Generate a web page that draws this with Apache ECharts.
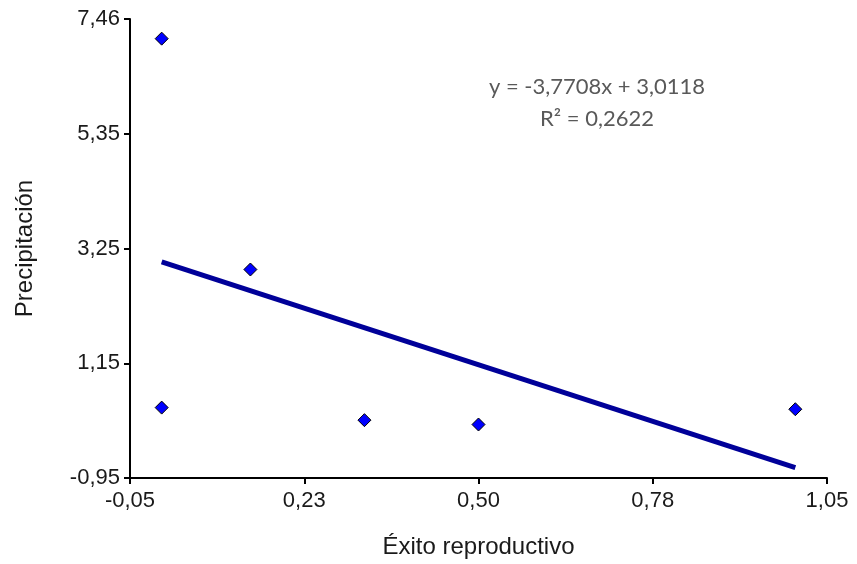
<!DOCTYPE html>
<html>
<head>
<meta charset="utf-8">
<script src="https://cdn.jsdelivr.net/npm/echarts@6/dist/echarts.min.js"></script>
<style>
  html, body { margin: 0; padding: 0; background: #fff; }
  #chart { width: 857px; height: 564px; }
</style>
</head>
<body>
<div id="chart"></div>
<script>
// datos
var exito = [0.0, 0.0, 0.14, 0.32, 0.50, 1.0];
var precip = [7.1, 0.34, 2.87, 0.11, 0.03, 0.31];

// ticks del eje
var xTicks = ['-0,05', '0,23', '0,50', '0,78', '1,05'];
var yTicks = ['-0,95', '1,15', '3,25', '5,35', '7,46'];

// recta de tendencia (y = -3,7708x + 3,0118)
var pendiente = -3.7708;
var intercepto = 3.0118;
var r2 = 0.2622;

var puntos = [];
for (var i = 0; i < exito.length; i++) {
    puntos.push([exito[i], precip[i]]);
}
var xMin = Math.min.apply(null, exito);
var xMax = Math.max.apply(null, exito);
var tendencia = [
    [xMin, pendiente * xMin + intercepto],
    [xMax, pendiente * xMax + intercepto]
];

function coma(n, d) {
    return n.toFixed(d).replace('.', ',');
}
var ecuacion = 'y = ' + coma(pendiente, 4) + 'x + ' + coma(intercepto, 4);
var textoR2 = 'R² = ' + coma(r2, 4);

var myChart = echarts.init(document.getElementById('chart'));
var fuente = 'Arial, "Liberation Sans", sans-serif';

option = {
    backgroundColor: '#fff',
    animation: false,
    grid: { left: 130, right: 30, top: 19, bottom: 85 },
    xAxis: {
        type: 'value',
        min: -0.05,
        max: 1.05,
        interval: 0.275,
        name: 'Éxito reproductivo',
        nameLocation: 'middle',
        nameGap: 57,
        nameTextStyle: { fontFamily: fuente, fontSize: 24, color: '#1a1a1a' },
        splitLine: { show: false },
        axisLine: { onZero: false, lineStyle: { color: '#000', width: 2 } },
        axisTick: { length: 6, lineStyle: { color: '#000', width: 2 } },
        axisLabel: {
            fontFamily: fuente,
            fontSize: 22,
            color: '#1a1a1a',
            margin: 12,
            formatter: function (v, idx) { return xTicks[idx]; }
        }
    },
    yAxis: {
        type: 'value',
        min: -0.95,
        max: 7.46,
        interval: 2.1025,
        name: 'Precipitación',
        nameLocation: 'middle',
        nameGap: 93,
        nameTextStyle: { fontFamily: fuente, fontSize: 24, color: '#1a1a1a' },
        splitLine: { show: false },
        axisLine: { onZero: false, lineStyle: { color: '#000', width: 2 } },
        axisTick: { length: 6, lineStyle: { color: '#000', width: 2 } },
        axisLabel: {
            fontFamily: fuente,
            fontSize: 22,
            color: '#1a1a1a',
            margin: 10,
            formatter: function (v, idx) { return yTicks[idx]; }
        }
    },
    graphic: [
        {
            type: 'text',
            x: 597,
            y: 87,
            style: {
                text: ecuacion,
                font: '22px Lato, "Open Sans", sans-serif',
                fill: '#595959',
                align: 'center',
                verticalAlign: 'middle'
            }
        },
        {
            type: 'text',
            x: 597,
            y: 119,
            style: {
                text: textoR2,
                font: '22px Lato, "Open Sans", sans-serif',
                fill: '#595959',
                align: 'center',
                verticalAlign: 'middle'
            }
        }
    ],
    series: [
        {
            name: 'Tendencia',
            type: 'line',
            data: tendencia,
            symbol: 'none',
            lineStyle: { color: '#000099', width: 5 },
            z: 2
        },
        {
            name: 'Datos',
            type: 'scatter',
            data: puntos,
            symbol: 'diamond',
            symbolSize: 13,
            itemStyle: { color: '#0000ff', borderColor: '#000', borderWidth: 1, opacity: 1 },
            z: 3
        }
    ]
};

myChart.setOption(option);
</script>
</body>
</html>
